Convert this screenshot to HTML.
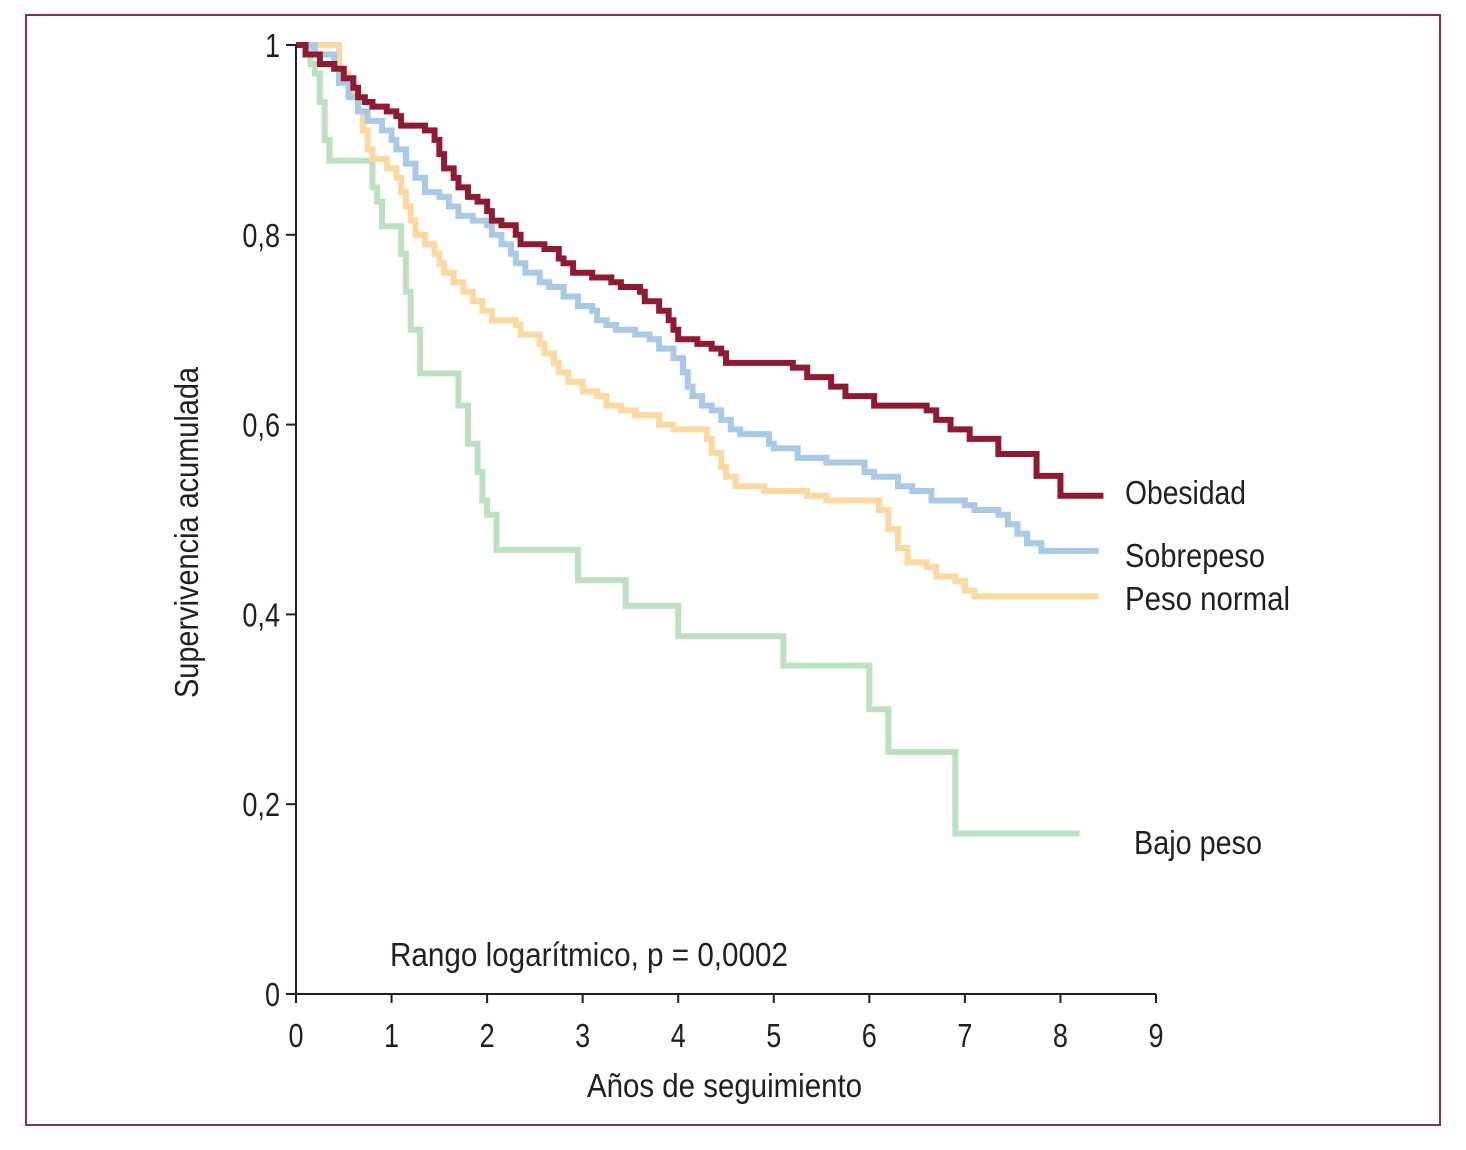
<!DOCTYPE html>
<html><head><meta charset="utf-8"><style>
body{margin:0;background:#fff;width:1466px;height:1145px;overflow:hidden}
svg text{font-family:"Liberation Sans Narrow","Liberation Sans",sans-serif;fill:#231f20}
</style></head><body>
<svg id="chart" width="1466" height="1145">
<rect x="26" y="15" width="1414" height="1110" fill="none" stroke="#9a2a45" stroke-width="2"/>
<g id="series"></g>
<g id="axes"></g>
<text x="390" y="966" font-size="33" textLength="398" lengthAdjust="spacingAndGlyphs">Rango logarítmico, p = 0,0002</text>
<text x="587" y="1097" font-size="33" textLength="275" lengthAdjust="spacingAndGlyphs">Años de seguimiento</text>
<text transform="translate(198,698) rotate(-90)" font-size="33" textLength="331" lengthAdjust="spacingAndGlyphs">Supervivencia acumulada</text>
<text x="1125" y="504" font-size="33" textLength="121" lengthAdjust="spacingAndGlyphs">Obesidad</text>
<text x="1125" y="567" font-size="33" textLength="140" lengthAdjust="spacingAndGlyphs">Sobrepeso</text>
<text x="1125" y="610" font-size="33" textLength="165" lengthAdjust="spacingAndGlyphs">Peso normal</text>
<text x="1134" y="854" font-size="33" textLength="128" lengthAdjust="spacingAndGlyphs">Bajo peso</text>
</svg>
<script>
const xTicks=[0,1,2,3,4,5,6,7,8,9];
const yTicks=[0,0.2,0.4,0.6,0.8,1];
const yTickLabels=["0","0,2","0,4","0,6","0,8","1"];
const bajoT=[0,0.15,0.2,0.25,0.3,0.35,0.8,0.85,0.9,1.1,1.15,1.2,1.3,1.7,1.8,1.9,1.95,2.0,2.1,2.95,3.45,4.0,5.1,6.0,6.2,6.9,8.2];
const bajoS=[1,0.98,0.97,0.94,0.9,0.878,0.85,0.835,0.809,0.78,0.74,0.7,0.654,0.62,0.58,0.55,0.52,0.505,0.468,0.436,0.409,0.377,0.346,0.3,0.255,0.169,0.169];
const normalT=[0,0.45,0.55,0.6,0.65,0.7,0.75,0.8,0.95,1.05,1.1,1.15,1.2,1.25,1.35,1.45,1.5,1.55,1.65,1.75,1.85,1.95,2.05,2.3,2.35,2.55,2.6,2.7,2.75,2.85,3.0,3.15,3.25,3.4,3.55,3.8,3.95,4.3,4.35,4.45,4.5,4.6,4.9,5.35,5.55,6.1,6.2,6.3,6.4,6.6,6.7,6.9,7.0,7.1,8.4];
const normalS=[1,0.97,0.955,0.945,0.93,0.91,0.89,0.88,0.87,0.86,0.845,0.83,0.815,0.8,0.79,0.78,0.77,0.76,0.75,0.74,0.73,0.72,0.71,0.705,0.695,0.685,0.675,0.665,0.655,0.645,0.635,0.63,0.62,0.615,0.61,0.6,0.595,0.585,0.57,0.555,0.545,0.535,0.53,0.525,0.52,0.51,0.49,0.47,0.455,0.45,0.44,0.435,0.425,0.419,0.419];
const sobreT=[0,0.2,0.4,0.45,0.55,0.65,0.75,0.9,1.0,1.05,1.15,1.25,1.35,1.5,1.6,1.7,1.85,2.0,2.05,2.15,2.25,2.3,2.4,2.55,2.65,2.8,2.95,3.1,3.15,3.25,3.35,3.55,3.7,3.8,3.95,4.05,4.1,4.15,4.25,4.35,4.45,4.55,4.65,4.95,5.0,5.25,5.55,5.95,6.05,6.3,6.45,6.65,7.0,7.1,7.35,7.45,7.55,7.65,7.8,8.4];
const sobreS=[1,0.99,0.975,0.96,0.945,0.93,0.92,0.91,0.9,0.89,0.875,0.86,0.845,0.84,0.83,0.82,0.815,0.81,0.8,0.79,0.78,0.77,0.76,0.75,0.745,0.735,0.725,0.72,0.71,0.705,0.7,0.695,0.69,0.68,0.67,0.655,0.64,0.63,0.62,0.615,0.605,0.595,0.59,0.58,0.575,0.565,0.56,0.55,0.545,0.535,0.53,0.52,0.515,0.51,0.505,0.495,0.485,0.475,0.467,0.467];
const obesT=[0,0.1,0.25,0.4,0.5,0.6,0.65,0.72,0.8,0.95,1.05,1.1,1.35,1.45,1.5,1.55,1.65,1.7,1.8,1.9,2.0,2.05,2.15,2.3,2.35,2.6,2.75,2.8,2.9,3.1,3.3,3.4,3.6,3.65,3.8,3.9,3.95,4.0,4.2,4.35,4.45,4.5,5.2,5.35,5.6,5.75,6.05,6.6,6.7,6.85,7.05,7.35,7.75,8.0,8.45];
const obesS=[1,0.99,0.98,0.975,0.965,0.955,0.945,0.94,0.935,0.93,0.925,0.915,0.91,0.9,0.885,0.87,0.86,0.85,0.84,0.835,0.825,0.815,0.81,0.8,0.79,0.785,0.775,0.77,0.76,0.755,0.75,0.745,0.74,0.73,0.72,0.71,0.7,0.69,0.685,0.68,0.675,0.665,0.66,0.65,0.64,0.63,0.62,0.615,0.605,0.595,0.585,0.569,0.546,0.525,0.525];
const NS="http://www.w3.org/2000/svg";
const X=t=>296+t*(1156-296)/9;
const Y=s=>994-s*949;
function stepPath(T,S){let d="M"+X(T[0])+","+Y(S[0]);for(let i=1;i<T.length;i++){d+="H"+X(T[i])+"V"+Y(S[i]);}return d;}
const g=document.getElementById('series');
[[bajoT,bajoS,"#bde0c1","curve-bajo-peso"],[normalT,normalS,"#fcd9a1","curve-peso-normal"],[sobreT,sobreS,"#a9c9e6","curve-sobrepeso"],[obesT,obesS,"#8e1b31","curve-obesidad"]].forEach(a=>{
 const p=document.createElementNS(NS,'path');
 p.setAttribute('d',stepPath(a[0],a[1]));p.setAttribute('fill','none');p.setAttribute('stroke',a[2]);p.setAttribute('stroke-width','6');
 
 
 g.appendChild(p);});
const ax=document.getElementById('axes');
function ln(x1,y1,x2,y2,n){const l=document.createElementNS(NS,'line');l.setAttribute('x1',x1);l.setAttribute('y1',y1);l.setAttribute('x2',x2);l.setAttribute('y2',y2);l.setAttribute('stroke','#231f20');l.setAttribute('stroke-width','2');
 
 
 ax.appendChild(l);}
function tx(x,y,s,anc,n){const t=document.createElementNS(NS,'text');t.setAttribute('x',x);t.setAttribute('y',y);t.setAttribute('font-size','33');t.setAttribute('text-anchor',anc);t.setAttribute('transform','translate('+x+','+y+') scale(0.82,1) translate('+(-x)+','+(-y)+')');t.textContent=s;
 
 
 ax.appendChild(t);}
ln(296,Y(1),296,994,'y-axis-line');ln(296,994,1156,994,'x-axis-line');
xTicks.forEach(v=>{ln(X(v),994,X(v),1003,'x-tick');tx(X(v),1047,String(v),'middle','x-tick-label');});
yTicks.forEach((v,i)=>{ln(286,Y(v),296,Y(v),'y-tick');tx(280,Y(v)+12,yTickLabels[i],'end','y-tick-label');});
</script>
</body></html>
